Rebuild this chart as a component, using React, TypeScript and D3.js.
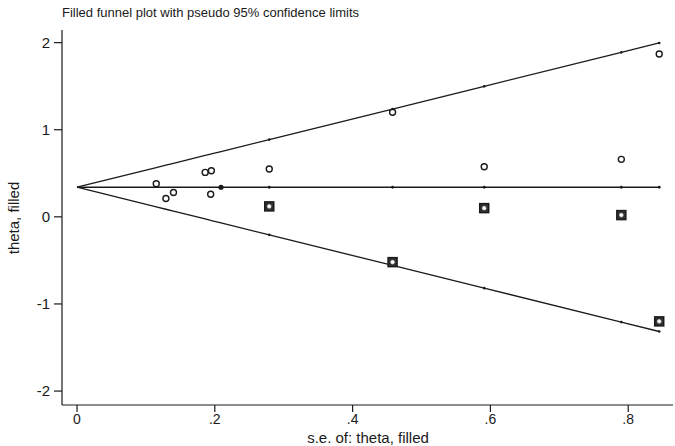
import React from "react";
import * as d3 from "d3";

const W = 675;
const H = 446;

const title = "Filled funnel plot with pseudo 95% confidence limits";
const xLabel = "s.e. of: theta, filled";
const yLabel = "theta, filled";

const pooledTheta = 0.34;

const observedSE = [0.115, 0.129, 0.14, 0.186, 0.195, 0.194, 0.209, 0.279, 0.458, 0.591, 0.79, 0.845];
const observedTheta = [0.38, 0.21, 0.28, 0.51, 0.53, 0.26, 0.34, 0.55, 1.2, 0.575, 0.66, 1.87];

const filledSE = [0.279, 0.458, 0.591, 0.79, 0.845];
const filledTheta = [0.12, -0.52, 0.1, 0.02, -1.2];

const xTicks = [0, 0.2, 0.4, 0.6, 0.8];
const xTickLabels = ["0", ".2", ".4", ".6", ".8"];
const yTicks = [-2, -1, 0, 1, 2];
const yTickLabels = ["-2", "-1", "0", "1", "2"];

export default function App() {
  const left = 62;
  const right = 673;
  const top = 30;
  const bottom = 405;

  const x = d3.scaleLinear().domain([-0.0218, 0.865]).range([left, right]);
  const y = d3.scaleLinear().domain([-2.16, 2.145]).range([bottom, top]);

  const seAll = Array.from(new Set([0, ...observedSE, ...filledSE])).sort((a, b) => a - b);
  const seMax = d3.max(seAll) as number;

  const line = d3
    .line<[number, number]>()
    .x((d) => x(d[0]))
    .y((d) => y(d[1]));

  const upper: [number, number][] = seAll.map((s) => [s, pooledTheta + 1.96 * s]);
  const lower: [number, number][] = seAll.map((s) => [s, pooledTheta - 1.96 * s]);
  const center: [number, number][] = [
    [0, pooledTheta],
    [seMax, pooledTheta],
  ];

  const dotSE = Array.from(new Set([...observedSE.slice(7), ...filledSE]));

  const font = "'Liberation Sans', Arial, sans-serif";
  const ink = "#1a1a1a";

  return (
    <svg
      width={W}
      height={H}
      style={{ position: "absolute", left: 0, top: 0, background: "#fff" }}
      fontFamily={font}
    >
      <rect x={0} y={0} width={W} height={H} fill="#fff" />
      <text x={62} y={17} fontSize={13} fill={ink}>
        {title}
      </text>

      {/* axes */}
      <line x1={left} x2={left} y1={top} y2={bottom} stroke={ink} strokeWidth={1.2} />
      <line x1={left} x2={right} y1={bottom} y2={bottom} stroke={ink} strokeWidth={1.2} />
      {yTicks.map((t, i) => (
        <g key={"yt" + i}>
          <line x1={left - 8} x2={left} y1={y(t)} y2={y(t)} stroke={ink} strokeWidth={1.2} />
          <text x={left - 12} y={y(t)} dy="0.35em" textAnchor="end" fontSize={15} fill={ink}>
            {yTickLabels[i]}
          </text>
        </g>
      ))}
      {xTicks.map((t, i) => (
        <g key={"xt" + i}>
          <line x1={x(t)} x2={x(t)} y1={bottom} y2={bottom + 7} stroke={ink} strokeWidth={1.2} />
          <text x={x(t)} y={bottom + 19} textAnchor="middle" fontSize={14} fill={ink}>
            {xTickLabels[i]}
          </text>
        </g>
      ))}
      <text x={368} y={443} textAnchor="middle" fontSize={15} fill={ink}>
        {xLabel}
      </text>
      <text
        transform={`translate(19, ${218}) rotate(-90)`}
        textAnchor="middle"
        fontSize={15}
        fill={ink}
      >
        {yLabel}
      </text>

      {/* funnel lines */}
      <path d={line(upper) || ""} fill="none" stroke={ink} strokeWidth={1.3} />
      <path d={line(lower) || ""} fill="none" stroke={ink} strokeWidth={1.3} />
      <path d={line(center) || ""} fill="none" stroke={ink} strokeWidth={1.3} />
      {dotSE.map((s, i) => (
        <g key={"d" + i}>
          <circle cx={x(s)} cy={y(pooledTheta)} r={1.4} fill={ink} />
          <circle cx={x(s)} cy={y(pooledTheta + 1.96 * s)} r={1.3} fill={ink} />
          <circle cx={x(s)} cy={y(pooledTheta - 1.96 * s)} r={1.3} fill={ink} />
        </g>
      ))}

      {/* filled studies */}
      {filledSE.map((s, i) => (
        <g key={"f" + i}>
          <rect
            x={x(s) - 4.5}
            y={y(filledTheta[i]) - 4.5}
            width={9}
            height={9}
            fill="#333"
            stroke="#1a1a1a"
            strokeWidth={1.5}
          />
          <circle cx={x(s)} cy={y(filledTheta[i])} r={1.8} fill="#fff" stroke="#ddd" strokeWidth={0.8} />
        </g>
      ))}

      {/* observed studies */}
      {observedSE.map((s, i) =>
        i === 6 ? (
          <circle key={"o" + i} cx={x(s)} cy={y(observedTheta[i])} r={2.6} fill={ink} />
        ) : (
          <circle
            key={"o" + i}
            cx={x(s)}
            cy={y(observedTheta[i])}
            r={3}
            fill="none"
            stroke={ink}
            strokeWidth={1.4}
          />
        )
      )}
    </svg>
  );
}
